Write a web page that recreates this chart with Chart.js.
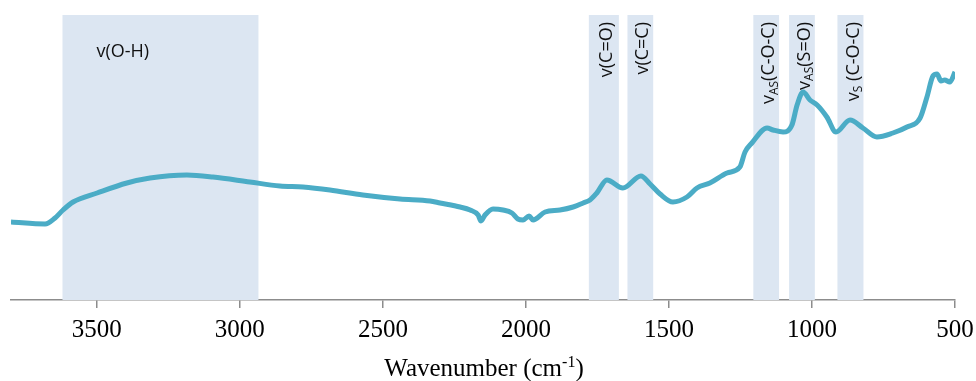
<!DOCTYPE html>
<html lang="en">
<head>
<meta charset="UTF-8">
<title>FTIR spectrum</title>
<script src="https://cdn.jsdelivr.net/npm/chart.js"></script>
<style>
  html, body { margin: 0; padding: 0; background: #fff; }
</style>
</head>
<body>
<canvas id="spectrum" width="976" height="381"></canvas>
<script>
// spectrum (wavenumber in cm-1, intensity in arbitrary units)
const wavenumbers = [3800, 3681, 3646, 3618, 3583, 3499, 3395, 3314, 3185, 3094, 2965, 2860, 2779, 2685,
  2570, 2440, 2335, 2300, 2230, 2195, 2167, 2157, 2143, 2115, 2080, 2049, 2028, 2010, 1989, 1975,
  1933, 1881, 1835, 1800, 1776, 1752, 1717, 1661, 1598, 1566, 1531, 1486, 1437, 1402, 1357, 1297,
  1252, 1234, 1210, 1157, 1136, 1101, 1070, 1052, 1031, 1007, 982, 948, 916, 867, 822, 773, 717,
  668, 622, 598, 577, 563, 549, 536, 518, 500];
const intensity = [78, 76, 82, 90, 98, 107, 117, 122, 125, 123, 118, 114, 113, 110,
  105, 101, 99, 97, 93, 90, 85, 79, 85, 91, 90, 87, 81, 80, 84, 80,
  88, 90, 93, 97, 100, 107, 120, 112, 124, 116, 106, 98, 103, 112, 117, 127,
  133, 148, 157, 172, 170, 168, 175, 195, 208, 200, 195, 183, 168, 180, 172, 163, 167,
  173, 182, 203, 224, 226, 219, 220, 218, 228];
const xTicks = [3500, 3000, 2500, 2000, 1500, 1000, 500];

// assignment bands: from / to in cm-1, label pieces [text, isSubscript]
const bandFrom = [3620, 1780, 1645, 1205, 1080, 911];
const bandTo = [2935, 1675, 1555, 1115, 990, 820];
const bandLabels = [
  [['v(O-H)', 0]],
  [['v(C=O)', 0]],
  [['v(C=C)', 0]],
  [['v', 0], ['AS', 1], ['(C-O-C)', 0]],
  [['v', 0], ['AS', 1], ['(S=O)', 0]],
  [['v', 0], ['S', 1], [' (C-O-C)', 0]]
];

const labelFont = '18px "Open Sans"';
const subFont = '12px "Open Sans"';
const serif = '"Liberation Serif", "Times New Roman", serif';

function labelWidth(ctx, parts) {
  let w = 0;
  parts.forEach(([t, sub]) => {
    ctx.font = sub ? subFont : labelFont;
    w += ctx.measureText(t).width;
  });
  return w;
}

function drawParts(ctx, parts, x0) {
  let x = x0;
  parts.forEach(([t, sub]) => {
    ctx.font = sub ? subFont : labelFont;
    ctx.fillText(t, x, sub ? 5 : 0);
    x += ctx.measureText(t).width;
  });
}

const bandPlugin = {
  id: 'bands',
  beforeDatasetsDraw(chart) {
    const { ctx, chartArea, scales: { x } } = chart;
    ctx.save();
    ctx.fillStyle = '#dce6f2';
    bandFrom.forEach((from, i) => {
      const a = x.getPixelForValue(from);
      const b = x.getPixelForValue(bandTo[i]);
      ctx.fillRect(Math.min(a, b), chartArea.top, Math.abs(b - a), chartArea.bottom - chartArea.top);
    });
    ctx.restore();
  },
  afterDatasetsDraw(chart) {
    const { ctx, chartArea, scales: { x } } = chart;
    ctx.save();
    ctx.fillStyle = '#111';
    ctx.textBaseline = 'middle';
    ctx.textAlign = 'left';
    bandFrom.forEach((from, i) => {
      const a = x.getPixelForValue(from);
      const b = x.getPixelForValue(bandTo[i]);
      const parts = bandLabels[i];
      if (Math.abs(b - a) > 100) {
        // wide band: horizontal label
        ctx.save();
        ctx.translate(Math.min(a, b) + 34, chartArea.top + 37);
        drawParts(ctx, parts, 0);
        ctx.restore();
      } else {
        ctx.save();
        ctx.translate((a + b) / 2 + 3, chartArea.top + 7);
        ctx.rotate(-Math.PI / 2);
        drawParts(ctx, parts, -labelWidth(ctx, parts));
        ctx.restore();
      }
    });
    ctx.restore();
  },
  afterDraw(chart) {
    // axis title with superscript
    const { ctx, chartArea } = chart;
    const big = '25px ' + serif;
    const small = '16px ' + serif;
    const pieces = [['Wavenumber (cm', big, 0], ['-1', small, -9], [')', big, 0]];
    ctx.save();
    ctx.fillStyle = '#000';
    ctx.textBaseline = 'alphabetic';
    let total = 0;
    pieces.forEach(([t, f]) => { ctx.font = f; total += ctx.measureText(t).width; });
    let px = 484 - total / 2;
    pieces.forEach(([t, f, dy]) => {
      ctx.font = f;
      ctx.fillText(t, px, 376 + dy);
      px += ctx.measureText(t).width;
    });
    ctx.restore();
  }
};

new Chart(document.getElementById('spectrum'), {
  type: 'line',
  data: {
    datasets: [{
      data: wavenumbers.map((w, i) => ({ x: w, y: intensity[i] })),
      borderColor: '#4bacc6',
      borderWidth: 5,
      pointRadius: 0,
      cubicInterpolationMode: 'monotone',
      fill: false
    }]
  },
  options: {
    responsive: false,
    animation: false,
    layout: { padding: { left: 11, right: 21, top: 15, bottom: 0 } },
    plugins: { legend: { display: false }, tooltip: { enabled: false } },
    scales: {
      x: {
        type: 'linear',
        reverse: true,
        min: 500,
        max: 3800,
        afterBuildTicks: s => { s.ticks = xTicks.map(v => ({ value: v })); },
        afterFit: s => { s.height = 81; s.paddingLeft = 0; s.paddingRight = 0; },
        grid: { drawOnChartArea: false, drawTicks: true, tickLength: 8, color: '#8c8c8c', lineWidth: 1.5 },
        border: { display: true, color: '#8c8c8c', width: 1.5 },
        ticks: {
          color: '#000',
          font: { family: serif, size: 25 },
          padding: 7,
          maxRotation: 0,
          autoSkip: false,
          callback: v => String(v)
        }
      },
      y: { display: false, min: 0, max: 285 }
    }
  },
  plugins: [bandPlugin]
});
</script>
</body>
</html>
